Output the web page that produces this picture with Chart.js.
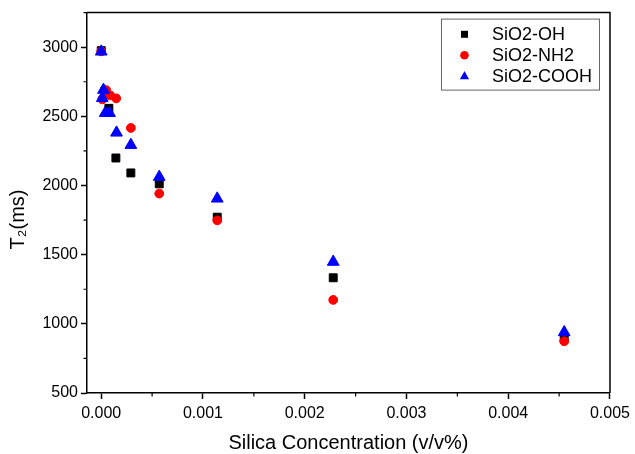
<!DOCTYPE html>
<html>
<head>
<meta charset="utf-8">
<script src="https://cdn.jsdelivr.net/npm/chart.js@4/dist/chart.umd.min.js"></script>
<style>
  html, body { margin: 0; padding: 0; background: #fff; }
  #wrap { width: 635px; height: 454px; }
</style>
</head>
<body>
<div id="wrap"><canvas id="c" width="635" height="454"></canvas></div>
<script>
// ---- data ----
const seriesNames = ['SiO2-OH', 'SiO2-NH2', 'SiO2-COOH'];

const ohX  = [0, 0.000035, 0.000075, 0.000144, 0.000291, 0.000570, 0.001140, 0.002280, 0.004550];
const ohY  = [2975, 2682, 2558, 2199, 2091, 2012, 1771, 1333, 895];

const nh2X = [0, 0.000010, 0.000049, 0.000088, 0.000147, 0.000291, 0.000570, 0.001140, 0.002280, 0.004550];
const nh2Y = [2970, 2623, 2690, 2651, 2630, 2416, 1942, 1748, 1173, 874];

const coohX = [0, 0.000010, 0.000022, 0.000039, 0.000081, 0.000150, 0.000291, 0.000570, 0.001140, 0.002280, 0.004550];
const coohY = [2968, 2632, 2691, 2524, 2524, 2382, 2293, 2062, 1905, 1448, 939];

const xTicks = [0, 0.001, 0.002, 0.003, 0.004, 0.005];
const yTicks = [500, 1000, 1500, 2000, 2500, 3000];
const xMinorTicks = [0.0005, 0.0015, 0.0025, 0.0035, 0.0045];
const yMinorTicks = [750, 1250, 1750, 2250, 2750, 3250];

const toPts = (xs, ys) => xs.map((x, i) => ({ x: x, y: ys[i] }));

const FONT = "'Liberation Sans', Arial, sans-serif";

const framePlugin = {
  id: 'frame',
  afterDraw(chart) {
    const { ctx, chartArea: a, scales } = chart;
    ctx.save();
    ctx.strokeStyle = '#000';
    ctx.lineWidth = 1.5;
    ctx.beginPath();
    ctx.moveTo(a.left, a.top);
    ctx.lineTo(a.right, a.top);
    ctx.lineTo(a.right, a.bottom);
    ctx.stroke();
    // minor ticks
    ctx.lineWidth = 1.2;
    ctx.beginPath();
    xMinorTicks.forEach(v => {
      const px = scales.x.getPixelForValue(v);
      ctx.moveTo(px, a.bottom);
      ctx.lineTo(px, a.bottom + 3.5);
    });
    yMinorTicks.forEach(v => {
      const py = scales.y.getPixelForValue(v);
      ctx.moveTo(a.left, py);
      ctx.lineTo(a.left - 3.5, py);
    });
    ctx.stroke();

    // legend box
    const bw = 158, bh = 71;
    const bx = a.right - 11 - bw, by = a.top + 6;
    ctx.strokeStyle = '#666';
    ctx.lineWidth = 1;
    ctx.strokeRect(bx + 0.5, by + 0.5, bw, bh);
    const rows = [by + 15.7, by + 36.7, by + 57.3];
    const mx = bx + 23.5;
    chart.data.datasets.forEach((ds, i) => {
      const y = rows[i];
      ctx.fillStyle = ds.backgroundColor;
      ctx.beginPath();
      if (ds.pointStyle === 'rect') {
        ctx.rect(mx - 3.5, y - 3.5, 7, 7);
      } else if (ds.pointStyle === 'circle') {
        ctx.arc(mx, y, 4.3, 0, Math.PI * 2);
      } else {
        ctx.moveTo(mx, y - 4.8);
        ctx.lineTo(mx + 4.6, y + 3.3);
        ctx.lineTo(mx - 4.6, y + 3.3);
        ctx.closePath();
      }
      ctx.fill();
      ctx.fillStyle = '#000';
      ctx.font = '18px ' + FONT;
      ctx.textAlign = 'left';
      ctx.textBaseline = 'middle';
      ctx.fillText(ds.label, bx + 51, y + 1);
    });
    ctx.restore();
  }
};

new Chart(document.getElementById('c'), {
  type: 'scatter',
  data: {
    datasets: [
      { label: seriesNames[0], data: toPts(ohX, ohY), pointStyle: 'rect', pointRadius: 5.6,
        backgroundColor: '#000000', borderColor: '#000000', borderWidth: 1, order: 3 },
      { label: seriesNames[1], data: toPts(nh2X, nh2Y), pointStyle: 'circle', pointRadius: 4.4,
        backgroundColor: '#ff0000', borderColor: '#ff0000', borderWidth: 1, order: 2 },
      { label: seriesNames[2], data: toPts(coohX, coohY), pointStyle: 'triangle', pointRadius: 6.8,
        backgroundColor: '#0000ff', borderColor: '#0000ff', borderWidth: 1, order: 1 }
    ]
  },
  options: {
    responsive: false,
    devicePixelRatio: 1,
    animation: false,
    layout: { padding: { top: 10, right: 24, left: 0, bottom: 0 } },
    plugins: { legend: { display: false }, tooltip: { enabled: false } },
    scales: {
      x: {
        type: 'linear',
        min: -0.00014, max: 0.005,
        afterFit(s) { s.height = 61; },
        afterBuildTicks(s) { s.ticks = xTicks.map(v => ({ value: v })); },
        ticks: {
          padding: 5,
          color: '#000', font: { family: FONT, size: 16 },
          callback: v => Number(v).toFixed(3),
          maxRotation: 0, autoSkip: false
        },
        grid: { display: true, drawOnChartArea: false, drawTicks: true, tickLength: 6,
                tickColor: '#000', tickWidth: 1.5 },
        border: { display: true, color: '#000', width: 1.5 },
        title: { display: true, text: 'Silica Concentration (v/v%)', color: '#000',
                 font: { family: FONT, size: 20 }, padding: { top: 0, bottom: -1 } }
      },
      y: {
        type: 'linear',
        min: 500, max: 3250,
        afterFit(s) { s.width = 87; },
        afterBuildTicks(s) { s.ticks = yTicks.map(v => ({ value: v })); },
        ticks: {
          padding: 3,
          color: '#000', font: { family: FONT, size: 16 },
          callback: v => String(Math.round(v)),
          autoSkip: false
        },
        grid: { display: true, drawOnChartArea: false, drawTicks: true, tickLength: 6,
                tickColor: '#000', tickWidth: 1.5 },
        border: { display: true, color: '#000', width: 1.5 },
        title: { display: true, text: 'T\u2082(ms)\u2007\u2007\u2007', color: '#000',
                 font: { family: FONT, size: 20 }, padding: { top: 6, bottom: 0 } }
      }
    }
  },
  plugins: [framePlugin]
});
</script>
</body>
</html>
